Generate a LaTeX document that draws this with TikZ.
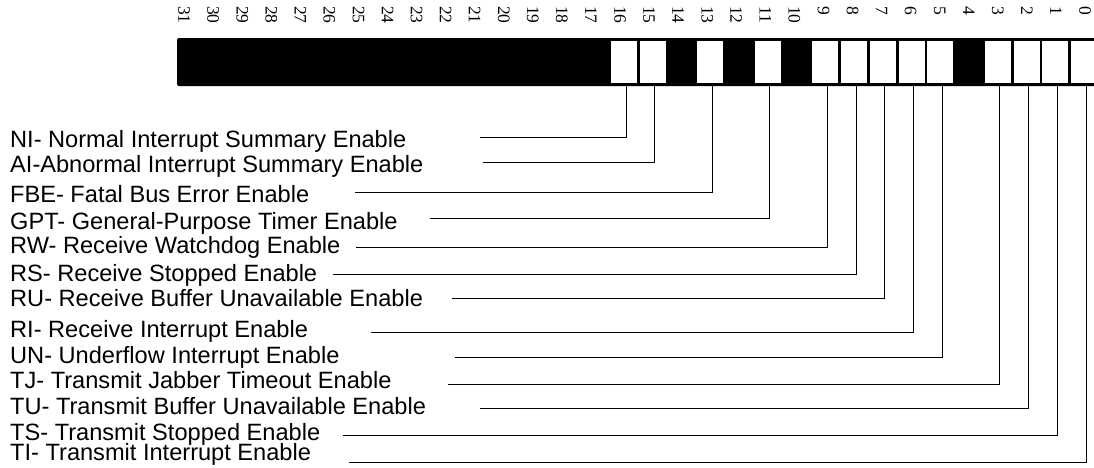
\documentclass[tikz,border=0pt]{standalone}
\usepackage{fontspec}
\setmainfont{Liberation Sans}
\newfontfamily\numfont{Liberation Serif}
\usepackage{tikz}
\usetikzlibrary{calc, positioning}

\begin{document}
\begin{tikzpicture}[x=1pt, y=-1pt,
		bitnum/.style={rotate=-90, anchor=west, inner sep=0pt, font=\numfont\fontsize{17.5}{17.5}\selectfont},
		bitcell/.style={fill=white, inner sep=0pt, minimum width=26pt, minimum height=42pt},
		bitlabel/.style={anchor=base west, inner sep=0pt, font=\fontsize{23.6}{28}\selectfont},
		leader/.style={line width=1pt}]
	\useasboundingbox (0,0) rectangle (1094,467);
	
	% register bar
	\fill[rounded corners=2pt] (177,38) rectangle (1100,86);
	
	\foreach \i in {0,...,31}
		\node[bitnum] (num\i) at ({1085-29.06*\i},6) {\i};
	
	\foreach \i in {0,1,2,3,5,6,7,8,9,11,13,15,16}
		\node[bitcell] (cell\i) at ({1084-28.75*\i},62) {};
	
	% bit names
	\foreach \i/\base/\y/\x/\txt in {
			16/147/137/480/{NI- Normal Interrupt Summary Enable},
			15/172/162/483/{AI-Abnormal Interrupt Summary Enable},
			13/202/192/355/{FBE- Fatal Bus Error Enable},
			11/229/218/430/{GPT- General-Purpose Timer Enable},
			9/253/247/356/{RW- Receive Watchdog Enable},
			8/281/274/333/{RS- Receive Stopped Enable},
			7/306/298/452/{RU- Receive Buffer Unavailable Enable},
			6/337/332/371/{RI- Receive Interrupt Enable},
			5/363/357/455/{UN- Underflow Interrupt Enable},
			3/388/384/448/{TJ- Transmit Jabber Timeout Enable},
			2/414/408/480/{TU- Transmit Buffer Unavailable Enable},
			1/440/435/343/{TS- Transmit Stopped Enable},
			0/460/462/349/{TI- Transmit Interrupt Enable}} {
		\node[bitlabel] (lbl\i) at (10,\base) {\txt};
		\coordinate (lead\i) at (\x,\y);
		\draw[leader] ([xshift=2pt]cell\i.south) |- (lead\i);
	}
	
\end{tikzpicture}
\end{document}
